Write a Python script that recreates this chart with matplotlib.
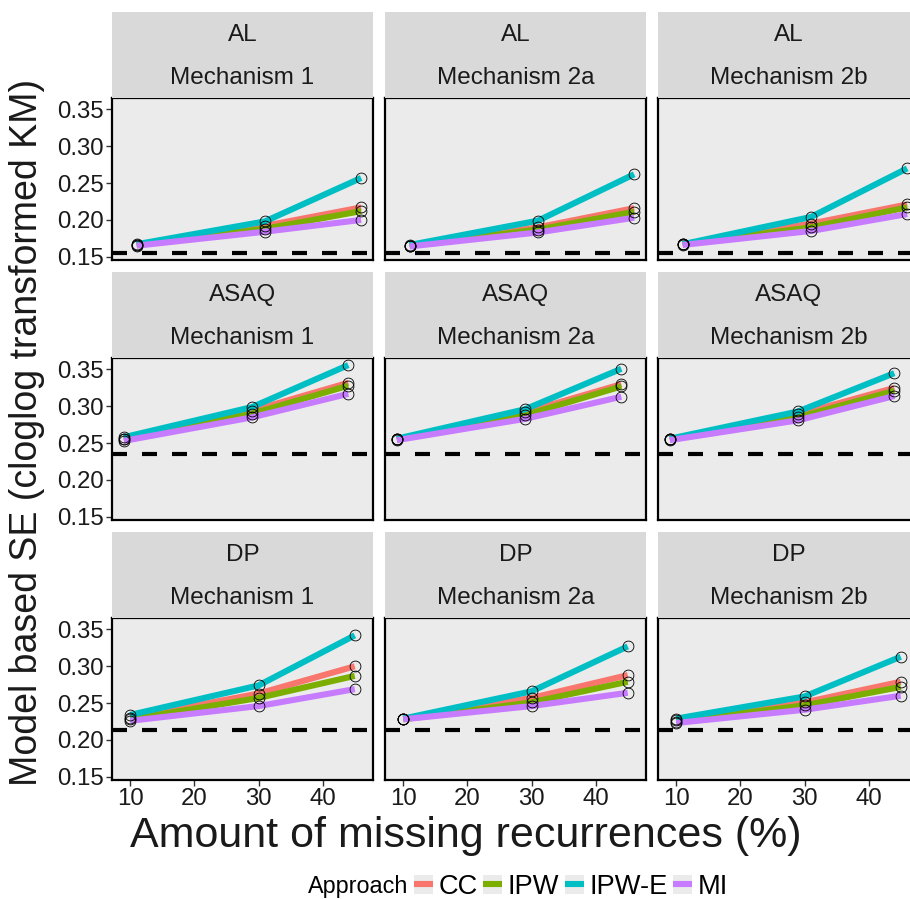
import matplotlib
matplotlib.use("Agg")
import matplotlib.pyplot as plt
from matplotlib.lines import Line2D
from matplotlib.patches import Rectangle

plt.rcParams["font.family"] = ["Liberation Sans", "DejaVu Sans"]

drugs = ["AL", "ASAQ", "DP"]
mechanisms = ["Mechanism 1", "Mechanism 2a", "Mechanism 2b"]
approaches = ["CC", "IPW", "IPW-E", "MI"]
colors = ["#F8766D", "#7CAE00", "#00BFC4", "#C77CFF"]

# amount of missing recurrences (%) for each drug
missing_al = [11, 31, 46]
missing_asaq = [9, 29, 44]
missing_dp = [10, 30, 45]

# true SE (dashed line) per drug
true_se = [0.1556, 0.2355, 0.2134]

# model based SE, [mechanism][approach] -> values at the 3 missing levels
se_al = [
    [[0.166, 0.192, 0.217], [0.166, 0.188, 0.212], [0.167, 0.198, 0.257], [0.165, 0.184, 0.200]],
    [[0.165, 0.190, 0.216], [0.165, 0.187, 0.211], [0.166, 0.199, 0.262], [0.164, 0.183, 0.203]],
    [[0.167, 0.195, 0.221], [0.167, 0.190, 0.217], [0.167, 0.204, 0.270], [0.166, 0.185, 0.208]],
]
se_asaq = [
    [[0.256, 0.294, 0.332], [0.255, 0.290, 0.328], [0.258, 0.299, 0.356], [0.253, 0.285, 0.317]],
    [[0.255, 0.292, 0.330], [0.255, 0.288, 0.327], [0.256, 0.296, 0.351], [0.254, 0.283, 0.313]],
    [[0.255, 0.289, 0.325], [0.255, 0.285, 0.321], [0.256, 0.293, 0.345], [0.254, 0.281, 0.314]],
]
se_dp = [
    [[0.230, 0.263, 0.300], [0.228, 0.257, 0.287], [0.234, 0.274, 0.342], [0.226, 0.246, 0.269]],
    [[0.229, 0.257, 0.288], [0.228, 0.251, 0.279], [0.229, 0.266, 0.327], [0.228, 0.246, 0.264]],
    [[0.227, 0.251, 0.279], [0.225, 0.247, 0.272], [0.229, 0.259, 0.313], [0.223, 0.241, 0.260]],
]

missing = [missing_al, missing_asaq, missing_dp]
se_all = [se_al, se_asaq, se_dp]

# shared scales with ggplot-like 5% expansion
all_x = [v for m in missing for v in m]
all_y = [v for d in se_all for m in d for a in m for v in a] + true_se
xr = max(all_x) - min(all_x)
yr = max(all_y) - min(all_y)
xlim = (min(all_x) - 0.05 * xr, max(all_x) + 0.05 * xr)
ylim = (min(all_y) - 0.05 * yr, max(all_y) + 0.05 * yr)

W, H = 910, 899
fig = plt.figure(figsize=(W / 100, H / 100), dpi=100)

col_left = [112, 385, 658]
row_top = [97.7, 357.7, 617.7]
pw, ph = 261, 162.3
strip_h = 86

for i, drug in enumerate(drugs):
    for j, mech in enumerate(mechanisms):
        l, t = col_left[j], row_top[i]
        ax = fig.add_axes([l / W, 1 - (t + ph) / H, pw / W, ph / H])
        ax.set_facecolor("#EBEBEB")

        # strip on top of panel
        st = fig.add_axes([l / W, 1 - t / H, pw / W, strip_h / H])
        st.set_facecolor("#D9D9D9")
        st.set_xticks([])
        st.set_yticks([])
        for s in st.spines.values():
            s.set_visible(False)
        st.text(0.5, 0.73, drug, ha="center", va="center", fontsize=17.5, color="#1a1a1a")
        st.text(0.5, 0.23, mech, ha="center", va="center", fontsize=17.5, color="#1a1a1a")

        ax.axhline(true_se[i], color="black", lw=3.0, dashes=(3.6, 3.6), zorder=2)
        for k, ap in enumerate(approaches):
            ax.plot(missing[i], se_all[i][j][k], color=colors[k], lw=4.4,
                    solid_capstyle="butt", zorder=3)
        for k, ap in enumerate(approaches):
            ax.plot(missing[i], se_all[i][j][k], ls="none", marker="o", ms=7.8,
                    mfc="none", mec="black", mew=0.6, zorder=4)

        ax.set_xlim(xlim)
        ax.set_ylim(ylim)
        ax.set_xticks([10, 20, 30, 40])
        ax.set_yticks([0.15, 0.20, 0.25, 0.30, 0.35])
        ax.set_yticklabels(["%.2f" % v for v in [0.15, 0.20, 0.25, 0.30, 0.35]])
        ax.tick_params(length=4, width=1, color="#333333", labelsize=17.3,
                       labelcolor="#1a1a1a", pad=2)
        if j > 0:
            ax.tick_params(left=False, labelleft=False)
        if i < 2:
            ax.tick_params(bottom=False, labelbottom=False)
        for s in ax.spines.values():
            s.set_linewidth(1.6)
            s.set_color("black")

fig.text(27 / W, 1 - 432 / H, "Model based SE (cloglog transformed KM)",
         rotation=90, ha="center", va="center", fontsize=27, color="#1a1a1a")
fig.text(466 / W, 1 - 836 / H, "Amount of missing recurrences (%)",
         ha="center", va="center", fontsize=31, color="#1a1a1a")

# legend
fig.text(308 / W, 1 - 887 / H, "Approach", ha="left", va="center", fontsize=16.8)
handles = [(Rectangle((0, 0), 1, 1, fc="#EBEBEB", ec="none"),
            Line2D([], [], color=c, lw=4.4, solid_capstyle="butt")) for c in colors]
fig.legend(handles, approaches, ncol=4, loc="center left",
           bbox_to_anchor=(414 / W, 1 - 887 / H), frameon=False, fontsize=19.6,
           handlelength=0.7, handleheight=0.7, handletextpad=0.2,
           columnspacing=0.2, borderpad=0, borderaxespad=0)

fig.savefig("out.png", dpi=100)
